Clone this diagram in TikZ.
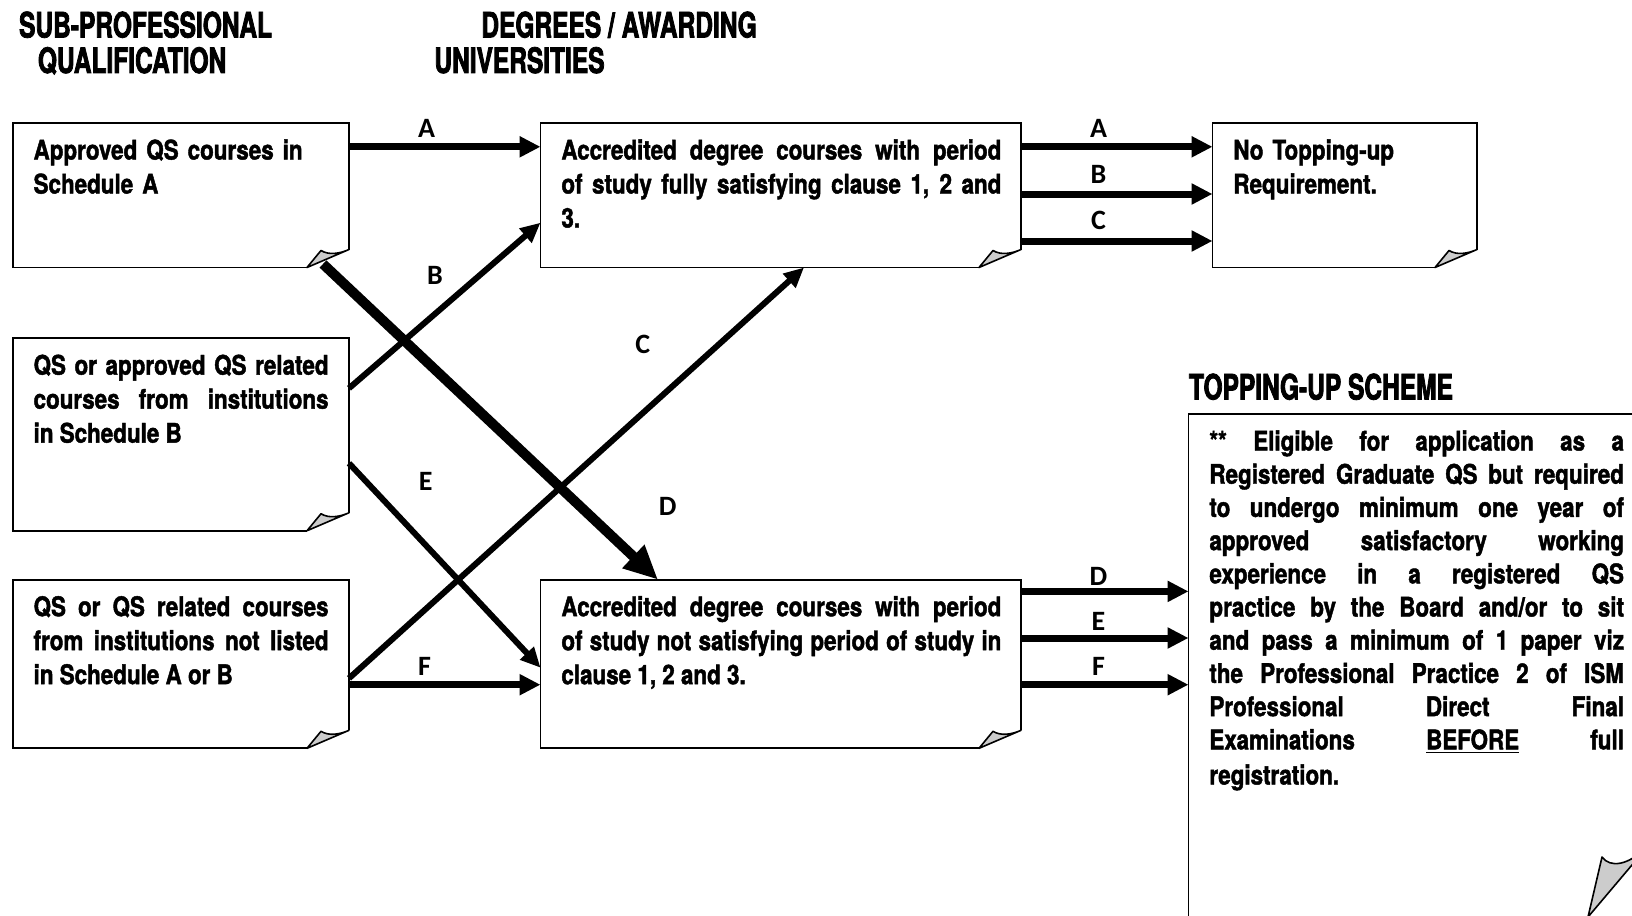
\documentclass[tikz,border=0pt]{standalone}
\usepackage{fontspec}
\setmainfont{TeX Gyre Heros}[FakeStretch=0.83,BoldFeatures={FakeBold=1.6}]
\newfontfamily\headfont{TeX Gyre Heros}[FakeStretch=0.70,BoldFeatures={FakeBold=2.2}]
\newfontfamily\labfont{Carlito}
\usetikzlibrary{arrows.meta,calc}
\tolerance=10000 \hbadness=10000 \hyphenpenalty=10000

% note box outline with the curled corner bottom right
\newcommand\curlbox[1]{%
  \draw[boxline] ($(#1.south east)+(0,-18)$) -- (#1.north east) -- (#1.north west) -- (#1.south west) -- ($(#1.south east)+(-42,0)$);
  \draw[foldline] ($(#1.south east)+(-42,0)$) -- ($(#1.south east)+(-28,-17)$) .. controls ($(#1.south east)+(-20,-12)$) and ($(#1.south east)+(-9,-14)$) .. ($(#1.south east)+(0,-18)$) -- cycle;}

\begin{document}
\begin{tikzpicture}[x=0.5pt,y=-0.5pt,
  notebox/.style={inner sep=0pt,outer sep=0pt},
  boxline/.style={line width=0.9pt},
  foldline/.style={line width=0.8pt,fill=black!20,line join=round},
  boxtext/.style={anchor=north west,inner sep=0pt,align=justify,font=\bfseries\fontsize{13.5}{17}\selectfont},
  headtext/.style={anchor=base west,inner sep=0pt,font=\headfont\bfseries\fontsize{17.5}{20}\selectfont},
  arrlab/.style={inner sep=0pt,font=\labfont\bfseries\fontsize{14}{16}\selectfont},
  flatarrow/.style={line width=3.5pt,-{Triangle[length=10.5pt,width=10pt]}},
  diagarrow/.style={line width=3pt,-{Triangle[length=10pt,width=9pt]}},
  heavyarrow/.style={line width=5pt,-{Triangle[length=17pt,width=15pt]}}]
\useasboundingbox (0,0) rectangle (1632,915);
\clip (0,0) rectangle (1632,915);

% column headings
\node[headtext] (hSub) at (18.7,37.5) {SUB-PROFESSIONAL};
\node[headtext] (hQual) at (37.5,73) {QUALIFICATION};
\node[headtext] (hDeg) at (481,37.5) {DEGREES / AWARDING};
\node[headtext] (hUni) at (434,73) {UNIVERSITIES};
\node[headtext] (hTop) at (1188.6,399.5) {TOPPING-UP SCHEME};

% boxes
\node[notebox,minimum width=168.15pt,minimum height=72.25pt] (schA) at (180.85,195.25) {};
\node[notebox,minimum width=168.15pt,minimum height=96.25pt] (schB) at (180.85,434.5) {};
\node[notebox,minimum width=168.15pt,minimum height=84.3pt] (schC) at (180.85,664) {};
\node[notebox,minimum width=240.25pt,minimum height=72.25pt] (fullDeg) at (780.75,195.25) {};
\node[notebox,minimum width=240.25pt,minimum height=84.3pt] (partDeg) at (780.75,664) {};
\node[notebox,minimum width=132.25pt,minimum height=72.25pt] (noTop) at (1344.75,195.25) {};
\node[notebox,minimum width=229.75pt,minimum height=251.5pt] (topUp) at (1418.25,665.5) {};
\foreach \b in {schA,schB,schC,fullDeg,partDeg,noTop} \curlbox{\b};
\draw[boxline] ($(topUp.south east)+(0,-71)$) -- (topUp.north east) -- (topUp.north west) -- (topUp.south west) -- ($(topUp.south east)+(-60,0)$);
\draw[foldline] ($(topUp.south east)+(-60,0)$) -- ($(topUp.south east)+(-46,-60)$) .. controls ($(topUp.south east)+(-38,-49)$) and ($(topUp.south east)+(-20,-51)$) .. ($(topUp.south east)+(0,-71)$) -- cycle;

% box texts
\node[boxtext,align=left,text width=147.5pt] (schAtxt) at ($(schA.north west)+(20.5,16)$) {Approved QS courses in\\Schedule A};
\node[boxtext,text width=147.5pt] (schBtxt) at ($(schB.north west)+(20.5,16)$) {QS or approved QS related\linebreak courses from institutions\linebreak in Schedule B};
\node[boxtext,text width=147.5pt] (schCtxt) at ($(schC.north west)+(20.5,16)$) {QS or QS related courses\linebreak from institutions not listed\linebreak in Schedule A or B};
\node[boxtext,text width=220pt] (fullDegtxt) at ($(fullDeg.north west)+(20.5,16)$) {Accredited degree courses with period\linebreak of study fully satisfying clause 1, 2 and\linebreak 3.};
\node[boxtext,text width=220pt] (partDegtxt) at ($(partDeg.north west)+(20.5,16)$) {Accredited degree courses with period\linebreak of study not satisfying period of study in\linebreak clause 1, 2 and 3.};
\node[boxtext,align=left,text width=110pt] (noToptxt) at ($(noTop.north west)+(20.5,16)$) {No Topping-up\\Requirement.};
\node[boxtext,text width=207.3pt,font=\bfseries\fontsize{13.5}{16.6}\selectfont] (topUptxt) at ($(topUp.north west)+(20.5,16)$) {** Eligible for application as a\linebreak Registered Graduate QS but required\linebreak to undergo minimum one year of\linebreak approved satisfactory working\linebreak experience in a registered QS\linebreak practice by the Board and/or to sit\linebreak and pass a minimum of 1 paper viz\linebreak the Professional Practice 2 of ISM\linebreak Professional Direct Final\linebreak Examinations\hfill\underline{BEFORE}\hfill full\\[1pt]registration.};

% routes between the boxes
\draw[flatarrow] ($(schA.north east)+(0,23.8)$) coordinate (s) -- (s -| fullDeg.west);
\draw[diagarrow] ($(schB.north east)+(0,50)$) -- ($(fullDeg.north west)+(0,99.7)$);
\draw[diagarrow] ($(schC.north east)+(0,98.6)$) -- ($(fullDeg.south west)+(263.5,0)$);
\draw[heavyarrow] ($(schA.south east)+(-26,-3.5)$) -- ($(partDeg.north west)+(117.5,0)$);
\draw[diagarrow] ($(schB.north east)+(0,125)$) -- ($(partDeg.north west)+(0,88)$);
\draw[flatarrow] ($(schC.north east)+(0,105)$) coordinate (s) -- (s -| partDeg.west);
\foreach \dy in {23.8,71,118} \draw[flatarrow] ($(fullDeg.north east)+(0,\dy)$) coordinate (s) -- (s -| noTop.west);
\foreach \dy in {11.7,58.3,105} \draw[flatarrow] ($(partDeg.north east)+(0,\dy)$) coordinate (s) -- (s -| topUp.west);

% route letters
\node[arrlab] (lA) at (426.7,128) {A};
\node[arrlab] (lB) at (435,275) {B};
\node[arrlab] (lC) at (642.7,344) {C};
\node[arrlab] (lD) at (667.7,506) {D};
\node[arrlab] (lE) at (425.7,481.7) {E};
\node[arrlab] (lF) at (424.6,666) {F};
\foreach \n/\y/\t in {lrA/128/A,lrB/174.8/B,lrC/220.6/C,lrD/576.7/D,lrE/621.7/E,lrF/666.7/F} \node[arrlab] (\n) at (1098.5,\y) {\t};
\end{tikzpicture}
\end{document}
